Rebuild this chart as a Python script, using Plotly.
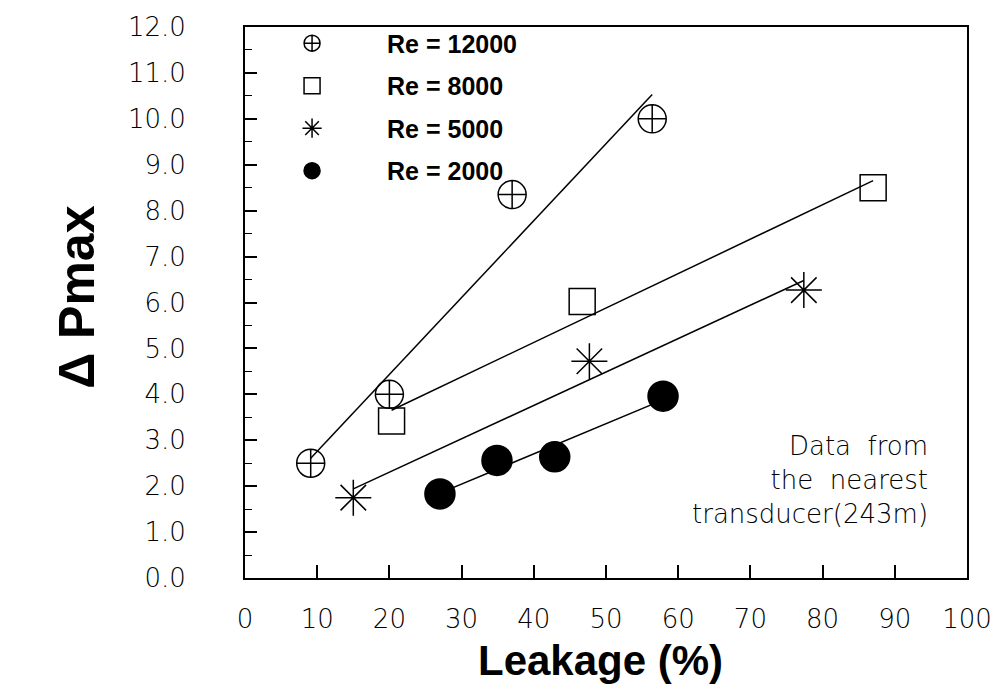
import numpy as np
import plotly.graph_objects as go

# ---- data ----
series_names = ["Re = 12000", "Re = 8000", "Re = 5000", "Re = 2000"]
leak_12000 = [9.1, 20.0, 37.0, 56.4]
dp_12000 = [2.5, 4.0, 8.35, 10.0]
leak_8000 = [20.3, 46.7, 87.0]
dp_8000 = [3.42, 6.02, 8.5]
leak_5000 = [15.0, 47.7, 77.4]
dp_5000 = [1.75, 4.72, 6.27]
leak_2000 = [27.0, 34.9, 42.9, 57.9]
dp_2000 = [1.83, 2.56, 2.64, 3.96]

x_ticks = list(range(0, 101, 10))
y_ticks = list(range(0, 13))

symbols = ["circle-cross-open", "square-open", "asterisk-open", "circle"]
sizes = [28, 26, 30, 30]
xs = [leak_12000, leak_8000, leak_5000, leak_2000]
ys = [dp_12000, dp_8000, dp_5000, dp_2000]

fig = go.Figure()

# fitted straight lines (least squares through each series, over its data range)
for x, y in zip(xs, ys):
    k, b = np.polyfit(x, y, 1)
    xr = np.array([min(x), max(x)])
    fig.add_trace(go.Scatter(x=xr, y=k * xr + b, mode="lines",
                             line=dict(color="black", width=1.5),
                             showlegend=False, hoverinfo="skip"))

for name, x, y, sym, sz in zip(series_names, xs, ys, symbols, sizes):
    fig.add_trace(go.Scatter(
        x=x, y=y, mode="markers", name=name, legendgroup=name,
        marker=dict(symbol=sym, size=sz, color="black",
                    line=dict(color="black", width=1.5)),
    ))

tick_font = dict(family="DejaVu Sans", size=26, color="black", weight=300)

fig.update_layout(
    width=1008, height=690,
    margin=dict(l=245, r=41, t=24, b=112),
    paper_bgcolor="white", plot_bgcolor="white",
    showlegend=True,
    legend=dict(
        x=-0.011, y=1.012, xanchor="left", yanchor="top",
        bgcolor="rgba(0,0,0,0)", borderwidth=0,
        font=dict(family="Liberation Sans", size=25, color="black", weight="bold"),
        itemwidth=140, tracegroupgap=7, itemsizing="trace",
    ),
    xaxis=dict(
        range=[0, 100], tickvals=x_ticks, ticktext=[str(v) for v in x_ticks],
        ticks="inside", ticklen=13, tickwidth=1.5, tickcolor="black",
        showline=True, linecolor="black", linewidth=2, mirror=True,
        showgrid=False, zeroline=False, tickfont=tick_font,
        ticklabelstandoff=17,
    ),
    yaxis=dict(
        range=[0, 12], tickvals=y_ticks, ticktext=[f"{v:.1f}" for v in y_ticks],
        ticks="inside", ticklen=12, tickwidth=1.5, tickcolor="black",
        minor=dict(dtick=0.5, ticks="inside", ticklen=7, tickcolor="black", tickwidth=1),
        showline=True, linecolor="black", linewidth=2, mirror=True,
        showgrid=False, zeroline=False, tickfont=tick_font,
        ticklabelstandoff=52,
    ),
    annotations=[
        dict(text="Leakage (%)", xref="paper", yref="paper", x=0.4917, y=-0.150,
             xanchor="center", yanchor="middle", showarrow=False,
             font=dict(family="Liberation Sans", size=42, color="black", weight="bold")),
        dict(text="Δ Pmax", xref="paper", yref="paper", x=-0.233, y=0.51,
             xanchor="center", yanchor="middle", showarrow=False, textangle=-90,
             font=dict(family="Liberation Sans", size=50, color="black", weight="bold")),
        dict(text="Data  from<br>the  nearest<br>transducer(243m)", xref="paper", yref="paper",
             x=0.9488, y=0.177, xanchor="right", yanchor="middle", align="right",
             showarrow=False,
             font=dict(family="DejaVu Sans", size=26, color="black", weight=300)),
    ],
)

fig.write_html("out.html")
